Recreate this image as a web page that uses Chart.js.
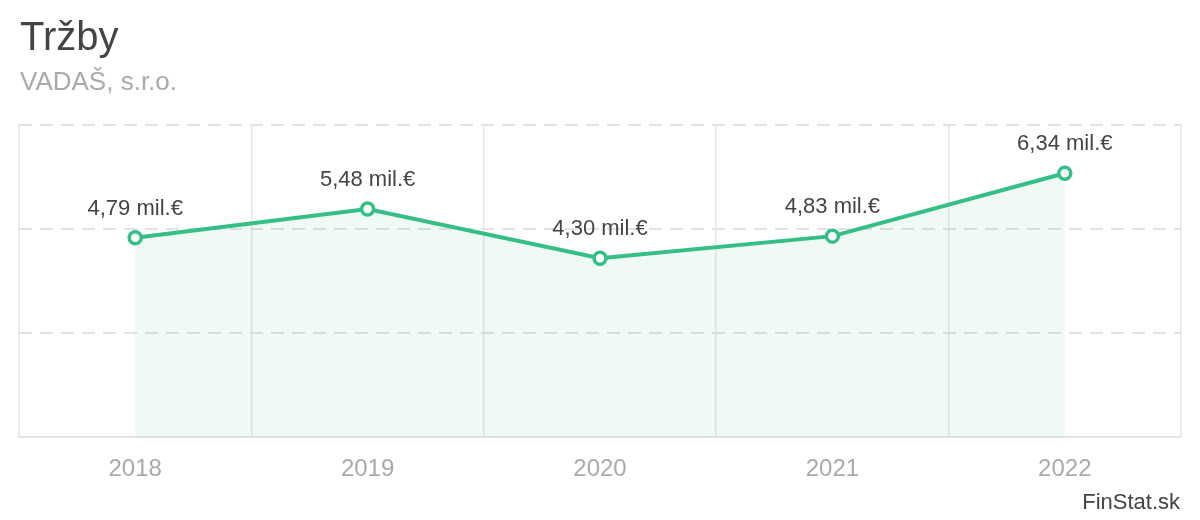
<!DOCTYPE html>
<html lang="sk">
<head>
<meta charset="UTF-8">
<script src="https://cdn.jsdelivr.net/npm/chart.js"></script>
<title>Tržby</title>
<style>
  html, body { margin: 0; padding: 0; background: #fff; }
  body { width: 1200px; height: 520px; position: relative; overflow: hidden; font-family: "Liberation Sans", Arial, sans-serif; }
  #nadpis { position: absolute; left: 20px; top: 10px; font-size: 40px; color: #444; line-height: 52px; }
  #podnadpis { position: absolute; left: 20px; top: 64px; font-size: 26px; color: #aaa; line-height: 34px; }
  #zdroj { position: absolute; right: 20px; top: 488px; font-size: 22px; color: #444; line-height: 28px; }
  .obal { position: absolute; left: 0; top: 0; width: 1200px; height: 520px; }
</style>
</head>
<body>
  <div class="obal"><canvas id="graf"></canvas></div>
  <div id="nadpis">Tržby</div>
  <div id="podnadpis">VADAŠ, s.r.o.</div>
  <div id="zdroj">FinStat.sk</div>

<script>
const roky = ['2018', '2019', '2020', '2021', '2022'];
const trzby = [4.79, 5.48, 4.30, 4.83, 6.34];
const popisky = ['4,79 mil.€', '5,48 mil.€', '4,30 mil.€', '4,83 mil.€', '6,34 mil.€'];
const osY = { min: 0, max: 7.5, krok: 2.5 };

const zelena = '#35be85';

// popisky nad bodmi
const popiskyPlugin = {
  id: 'popisky',
  afterDatasetsDraw(chart) {
    const ctx = chart.ctx;
    const meta = chart.getDatasetMeta(0);
    ctx.save();
    ctx.font = '22px "Liberation Sans", Arial, sans-serif';
    ctx.fillStyle = '#444';
    ctx.textAlign = 'center';
    ctx.textBaseline = 'middle';
    meta.data.forEach((bod, i) => {
      ctx.fillText(popisky[i], bod.x, bod.y - 29);
    });
    ctx.restore();
  }
};

const ctx = document.getElementById('graf');

var graf = new Chart(ctx, {
  type: 'line',
  data: {
    labels: roky,
    datasets: [{
      data: trzby,
      borderColor: zelena,
      borderWidth: 4,
      backgroundColor: 'rgba(53, 190, 133, 0.08)',
      fill: 'origin',
      tension: 0,
      pointRadius: 6,
      pointHoverRadius: 6,
      pointBorderWidth: 3.5,
      pointBackgroundColor: '#fff',
      pointBorderColor: zelena
    }]
  },
  options: {
    responsive: true,
    maintainAspectRatio: false,
    animation: false,
    layout: {
      padding: { top: 125, left: 19, right: 19, bottom: 18 }
    },
    plugins: {
      legend: { display: false },
      tooltip: { enabled: false }
    },
    scales: {
      x: {
        offset: true,
        grid: {
          offset: true,
          color: '#e4e8e8',
          lineWidth: 1.5,
          drawTicks: false
        },
        border: { display: true, color: '#e4e4e4', width: 2 },
        ticks: {
          color: '#aaa',
          padding: 18,
          font: { family: '"Liberation Sans", Arial, sans-serif', size: 24 }
        }
      },
      y: {
        min: osY.min,
        max: osY.max,
        ticks: { display: false, stepSize: osY.krok },
        grid: {
          drawTicks: false,
          color: function (c) { return c.tick && c.tick.value === 0 ? 'rgba(0,0,0,0)' : '#e2e2e2'; },
          lineWidth: 2
        },
        border: { display: false, dash: [13, 8] }
      }
    }
  },
  plugins: [popiskyPlugin]
});
</script>
</body>
</html>
